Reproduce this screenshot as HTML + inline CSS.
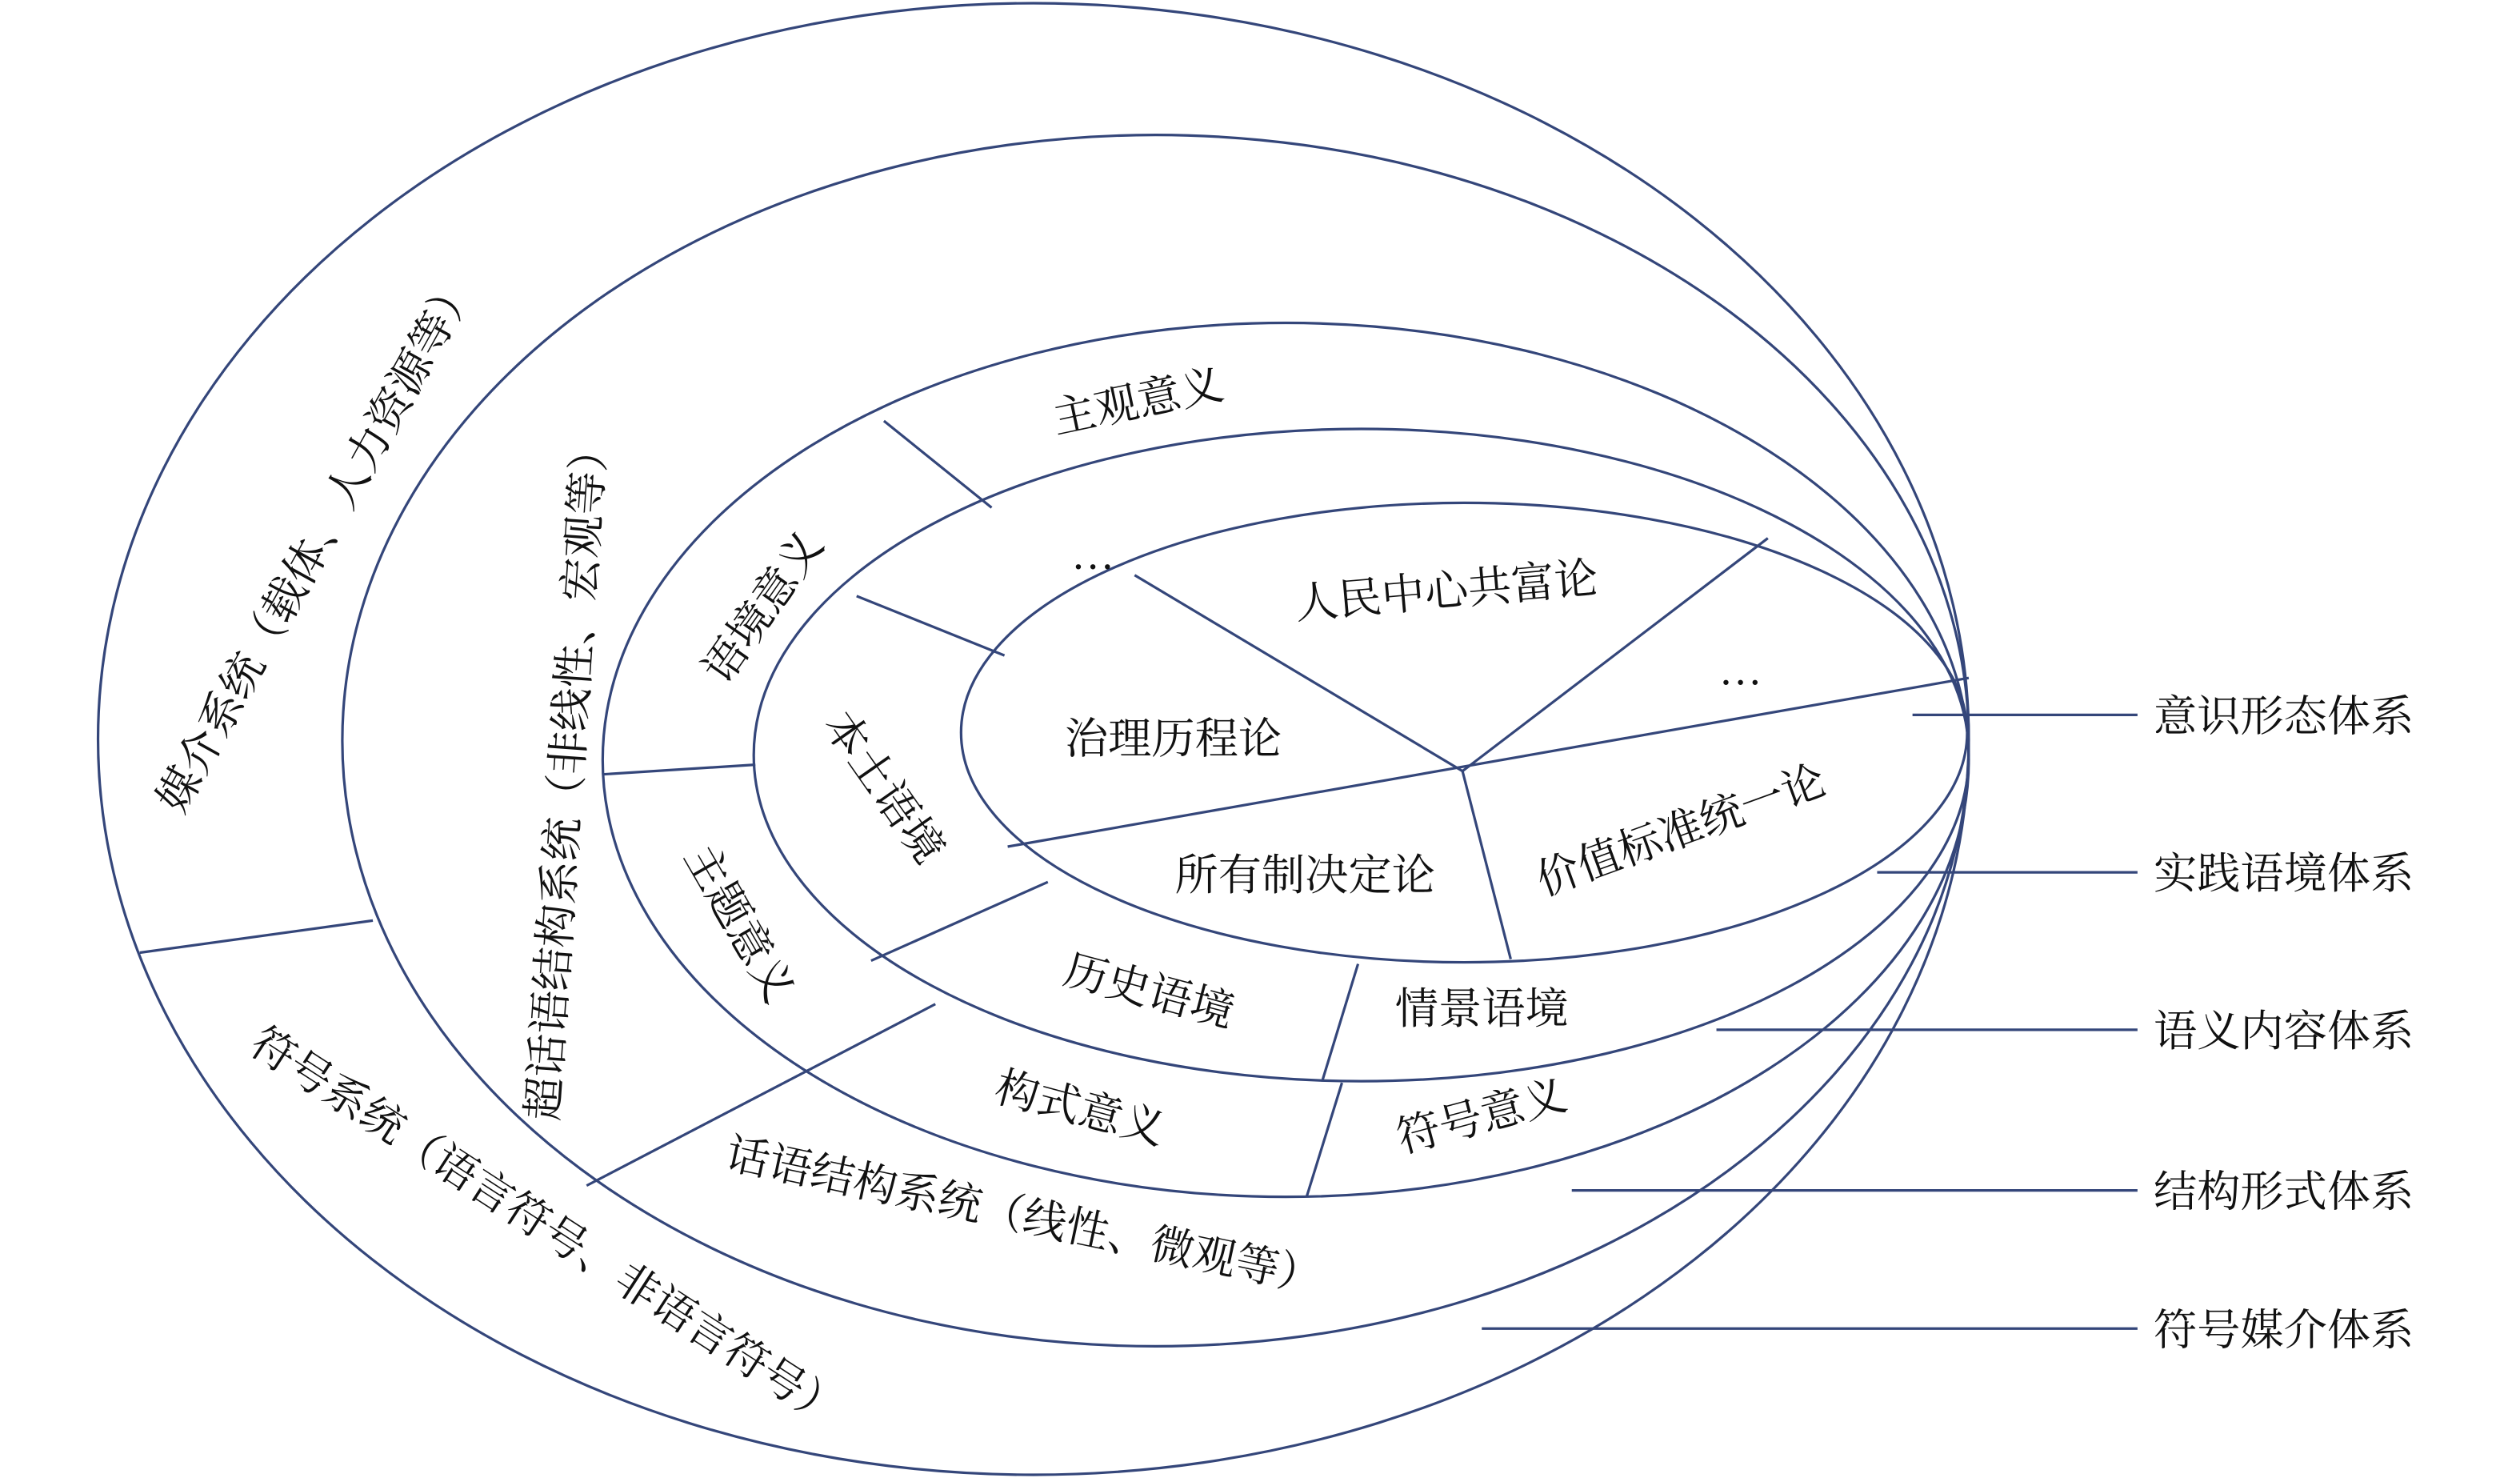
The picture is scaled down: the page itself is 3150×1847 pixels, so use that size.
<!DOCTYPE html>
<html><head><meta charset="utf-8"><style>
html,body{margin:0;padding:0;background:#fff;}
svg{display:block;}
text{font-family:"Liberation Serif","Noto Serif CJK SC","Noto Sans CJK SC",serif;font-size:27px;fill:#111;}
</style></head><body>
<svg width="3150" height="1847" viewBox="0 0 1568 920" preserveAspectRatio="none">
<g fill="none" stroke="#34467a" stroke-width="1.6">
<ellipse cx="643" cy="460" rx="582" ry="458"/>
<ellipse cx="719" cy="461" rx="506" ry="377"/>
<ellipse cx="800" cy="473" rx="425" ry="272"/>
<ellipse cx="847" cy="470" rx="378" ry="203"/>
<ellipse cx="911" cy="456" rx="313" ry="143"/>
<line x1="87" y1="593" x2="232" y2="573"/>
<line x1="365" y1="738" x2="582" y2="625"/>
<line x1="375" y1="482" x2="470" y2="476"/>
<line x1="550" y1="262" x2="617" y2="316"/>
<line x1="533" y1="371" x2="625" y2="408"/>
<line x1="542" y1="598" x2="652" y2="549"/>
<line x1="813" y1="745" x2="835" y2="674"/>
<line x1="823" y1="672" x2="845" y2="600"/>
<line x1="627" y1="527" x2="1225" y2="422"/>
<line x1="706" y1="358" x2="910" y2="480"/>
<line x1="910" y1="480" x2="1100" y2="335"/>
<line x1="910" y1="480" x2="940" y2="597"/>
<line x1="1190" y1="445" x2="1330" y2="445"/>
<line x1="1168" y1="543" x2="1330" y2="543"/>
<line x1="1068" y1="641" x2="1330" y2="641"/>
<line x1="978" y1="741" x2="1330" y2="741"/>
<line x1="922" y1="827" x2="1330" y2="827"/>
</g>
<g text-anchor="start">
<text x="1340" y="455">意识形态体系</text>
<text x="1340" y="553">实践语境体系</text>
<text x="1340" y="651">语义内容体系</text>
<text x="1340" y="751">结构形式体系</text>
<text x="1340" y="837">符号媒介体系</text>
</g>
<g text-anchor="middle" dominant-baseline="central">
<text transform="translate(197,338) rotate(-61)">媒介系统（载体、人力资源等）</text>
<text transform="translate(353,482) rotate(-86)">超话语结构系统（非线性、宏观等）</text>
<text transform="translate(340,764) rotate(33)">符号系统（语言符号、非语言符号）</text>
<text transform="translate(637,757) rotate(12)">话语结构系统（线性、微观等）</text>
<text transform="translate(708,250) rotate(-12)">主观意义</text>
<text transform="translate(475,378) rotate(-55)">语境意义</text>
<text transform="translate(460,575) rotate(60)">主题意义</text>
<text transform="translate(550,490) rotate(55)">本土语境</text>
<text transform="translate(715,617) rotate(15)">历史语境</text>
<text transform="translate(672,690) rotate(15)">构式意义</text>
<text transform="translate(922,628)">情景语境</text>
<text transform="translate(922,695) rotate(-15)">符号意义</text>
<text transform="translate(730,460)">治理历程论</text>
<text transform="translate(900,368) rotate(-5)">人民中心共富论</text>
<text transform="translate(812,545)">所有制决定论</text>
<text transform="translate(1046,517) rotate(-20)">价值标准统一论</text>
<text transform="translate(680,345)">…</text>
<text transform="translate(1083,417)">…</text>
</g>
</svg>
</body></html>
